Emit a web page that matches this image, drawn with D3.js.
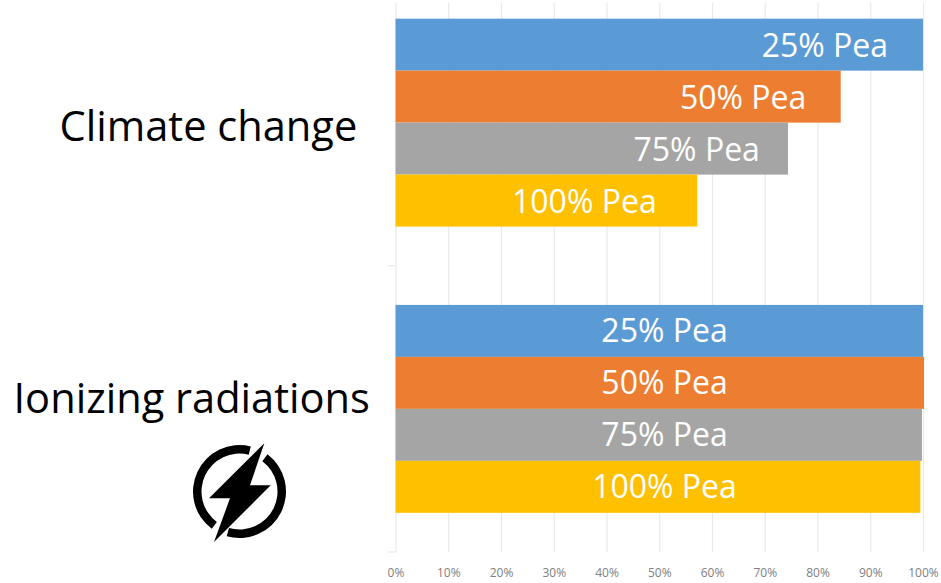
<!DOCTYPE html>
<html>
<head>
<meta charset="utf-8">
<script src="https://cdn.jsdelivr.net/npm/d3@7"></script>
<style>
html, body { margin: 0; padding: 0; background: #fff; }
svg { display: block; }
text { font-family: "Open Sans", "Noto Sans", sans-serif; }
</style>
</head>
<body>
<div id="chart"></div>
<script>
const impacts = ["Climate change", "Ionizing radiations"];
const blends = ["25% Pea", "50% Pea", "75% Pea", "100% Pea"];
const blendColors = ["#5B9BD5", "#ED7D31", "#A5A5A5", "#FFC000"];
const climateValues = [100, 84.4, 74.4, 57.2];
const ionizingValues = [100, 100.2, 99.8, 99.5];
const tickValues = [0, 10, 20, 30, 40, 50, 60, 70, 80, 90, 100];
// Where each blend's label sits along the value axis.
const climateLabelAt = [81.4, 65.9, 57.1, 35.8];
const ionizingLabelAt = [51, 51, 51, 51];

const width = 941, height = 583;
const svg = d3.select("#chart").append("svg").attr("width", width).attr("height", height);

const x = d3.scaleLinear().domain([0, 100]).range([395.5, 923]);

const groupGap = 0.2737;
const y0 = d3.scaleBand().domain(impacts).range([-20.5, 552])
  .paddingInner(groupGap).paddingOuter(groupGap / 2);
const y1 = d3.scaleBand().domain(blends).range([0, y0.bandwidth()]);

const plotTop = 3, plotBottom = 552;

// Vertical gridlines and percentage ticks
const xAxis = svg.append("g")
  .attr("transform", `translate(0,${plotBottom})`)
  .call(d3.axisBottom(x).tickValues(tickValues).tickFormat(d => d + "%")
    .tickSize(-(plotBottom - plotTop)).tickPadding(14));
xAxis.select(".domain").remove();
xAxis.selectAll("line").attr("stroke", "#e9e9e9").attr("stroke-width", 1.2);
xAxis.selectAll("text").attr("fill", "#808080").attr("dy", "0.9em").style("font-size", "12px");

// Short marks on the category axis, at the group boundaries
const boundaries = [y0.step() + y0(impacts[0]) - y0.step() * groupGap / 2, plotBottom];
svg.append("g").selectAll("line").data(boundaries).join("line")
  .attr("x1", x(0) - 8).attr("x2", x(0))
  .attr("y1", d => d).attr("y2", d => d)
  .attr("stroke", "#e9e9e9").attr("stroke-width", 1.2);

const series = [
  { impact: impacts[0], values: climateValues, labelAt: climateLabelAt, labelNudge: 1 },
  { impact: impacts[1], values: ionizingValues, labelAt: ionizingLabelAt, labelNudge: -0.5 }
];

const groups = svg.append("g").selectAll("g").data(series).join("g")
  .attr("transform", d => `translate(0,${y0(d.impact)})`);

// Bars
groups.selectAll("rect")
  .data(d => d.values.map((v, i) => ({ v, i })))
  .join("rect")
  .attr("x", x(0))
  .attr("y", d => y1(blends[d.i]))
  .attr("width", d => x(d.v) - x(0))
  .attr("height", y1.bandwidth())
  .attr("fill", d => blendColors[d.i]);

// Blend labels inside the bars
groups.selectAll("text")
  .data(d => d.labelAt.map((at, i) => ({ at, i, nudge: d.labelNudge })))
  .join("text")
  .attr("x", d => x(d.at))
  .attr("y", d => y1(blends[d.i]) + y1.bandwidth() / 2 + d.nudge)
  .attr("dy", "0.35em")
  .attr("text-anchor", "middle")
  .attr("fill", "#fff")
  .style("font-size", "32px")
  .text(d => blends[d.i]);

// Impact category headings
svg.append("text").attr("x", 59.5).attr("y", 141)
  .attr("fill", "#000").style("font-size", "41.6px").text(impacts[0]);
svg.append("text").attr("x", 13.5).attr("y", 413)
  .attr("fill", "#000").style("font-size", "41.6px").text(impacts[1]);

// Lightning-bolt icon: a broken ring with a bolt through it
const deg = Math.PI / 180;
const icon = svg.append("g").attr("transform", "translate(239.5,491.5)");
const ring = d3.arc().innerRadius(38).outerRadius(46.5);
[[37, 196], [216.6, 374]].forEach(([a, b]) => {
  icon.append("path").attr("d", ring({ startAngle: a * deg, endAngle: b * deg })).attr("fill", "#000");
});
const bolt = [[24.8, -48.2], [10.5, -6.2], [31.2, -6.2], [-25.5, 50.5], [-9.5, 6.8], [-30.5, 6.8]];
icon.append("path").attr("d", d3.line()(bolt) + "Z").attr("fill", "#000");
</script>
</body>
</html>
